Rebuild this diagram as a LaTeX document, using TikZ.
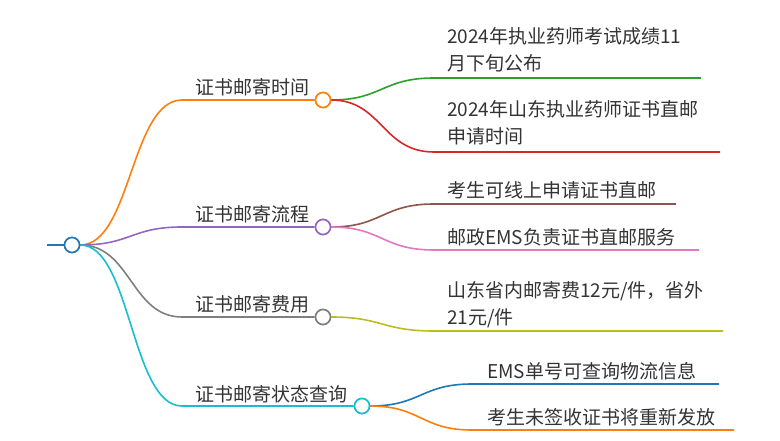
\documentclass[tikz,border=0pt]{standalone}
\usepackage{fontspec}
\setmainfont{Noto Sans CJK SC}
\usepackage{tikz}
\usetikzlibrary{positioning}

\definecolor{cblue}{HTML}{1F77B4}
\definecolor{corange}{HTML}{FF7F0E}
\definecolor{cgreen}{HTML}{2CA02C}
\definecolor{cred}{HTML}{D62728}
\definecolor{cpurple}{HTML}{9467BD}
\definecolor{cbrown}{HTML}{8C564B}
\definecolor{cpink}{HTML}{E377C2}
\definecolor{cgray}{HTML}{7F7F7F}
\definecolor{colive}{HTML}{BCBD22}
\definecolor{ccyan}{HTML}{17BECF}
\definecolor{txt}{HTML}{333333}

\tikzset{
  dot/.style={circle, draw=#1, fill=white, line width=1.6pt, minimum size=15pt, inner sep=0pt},
  lbl/.style={anchor=base west, inner sep=0pt, text=txt, align=left,
    font=\fontsize{19}{27}\selectfont},
  edge/.style={draw=#1, line width=1.6pt},
}

\begin{document}
\begin{tikzpicture}[x=1pt, y=-1pt]
  \useasboundingbox (0,0) rectangle (780,441);

  % root
  \node[dot=cblue] (root) at (72,245) {};
  \coordinate (in) at (47,245);
  \draw[cblue, line width=2.6pt] (in) -- (root.west);

  % first level
  \node[dot=corange] (t1) at (323,100) {};
  \node[dot=cpurple] (t2) at (323,227) {};
  \node[dot=cgray]   (t3) at (323,317) {};
  \node[dot=ccyan]   (t4) at (362,406) {};
  \coordinate (t1a) at (182,100);
  \coordinate (t2a) at (182,227);
  \coordinate (t3a) at (182,317);
  \coordinate (t4a) at (182,406);

  \node[lbl] (l1) at (195,95) {证书邮寄时间};
  \node[lbl] (l2) at (195,222) {证书邮寄流程};
  \node[lbl] (l3) at (195,312) {证书邮寄费用};
  \node[lbl] (l4) at (195,401) {证书邮寄状态查询};

  \draw[edge=corange] (root.east) .. controls (131,245) and (131,100) .. (t1a) -- (t1.west) ; %
  \draw[edge=cpurple] (root.east) .. controls (131,245) and (131,227) .. (t2a) -- (t2.west) ; %
  \draw[edge=cgray]   (root.east) .. controls (131,245) and (131,317) .. (t3a) -- (t3.west) ; %
  \draw[edge=ccyan]   (root.east) .. controls (131,245) and (131,406) .. (t4a) -- (t4.west) ; %

  % leaves
  \coordinate (a1) at (434,78);  \coordinate (b1) at (701,78);
  \coordinate (a2) at (434,152); \coordinate (b2) at (720,152);
  \coordinate (a3) at (434,204); \coordinate (b3) at (676,204);
  \coordinate (a4) at (434,250); \coordinate (b4) at (699,250);
  \coordinate (a5) at (434,331); \coordinate (b5) at (723,331);
  \coordinate (a6) at (472,384); \coordinate (b6) at (719,384);
  \coordinate (a7) at (472,430); \coordinate (b7) at (734,430);

  \node[lbl] (s1) at (447,71)  {2024年执业药师考试成绩11\\月下旬公布};
  \node[lbl] (s2) at (447,144) {2024年山东执业药师证书直邮\\申请时间};
  \node[lbl] (s3) at (447,198) {考生可线上申请证书直邮};
  \node[lbl] (s4) at (447,244) {邮政EMS负责证书直邮服务};
  \node[lbl] (s5) at (447,324) {山东省内邮寄费12元/件，省外\\21元/件};
  \node[lbl] (s6) at (487,378) {EMS单号可查询物流信息};
  \node[lbl] (s7) at (487,424) {考生未签收证书将重新发放};

  \draw[edge=cgreen]  (t1.east) .. controls (382,100) and (382,78)  .. (a1) -- (b1) ; %
  \draw[edge=cred]    (t1.east) .. controls (382,100) and (382,152) .. (a2) -- (b2) ; %
  \draw[edge=cbrown]  (t2.east) .. controls (382,227) and (382,204) .. (a3) -- (b3) ; %
  \draw[edge=cpink]   (t2.east) .. controls (382,227) and (382,250) .. (a4) -- (b4) ; %
  \draw[edge=colive]  (t3.east) .. controls (382,317) and (382,331) .. (a5) -- (b5) ; %
  \draw[edge=cblue]   (t4.east) .. controls (421,406) and (421,384) .. (a6) -- (b6) ; %
  \draw[edge=corange] (t4.east) .. controls (421,406) and (421,430) .. (a7) -- (b7) ; %

  % keep dots on top
  \foreach \n/\c in {root/cblue, t1/corange, t2/cpurple, t3/cgray, t4/ccyan}
    \node[dot=\c] at (\n) {};
\end{tikzpicture}
\end{document}
